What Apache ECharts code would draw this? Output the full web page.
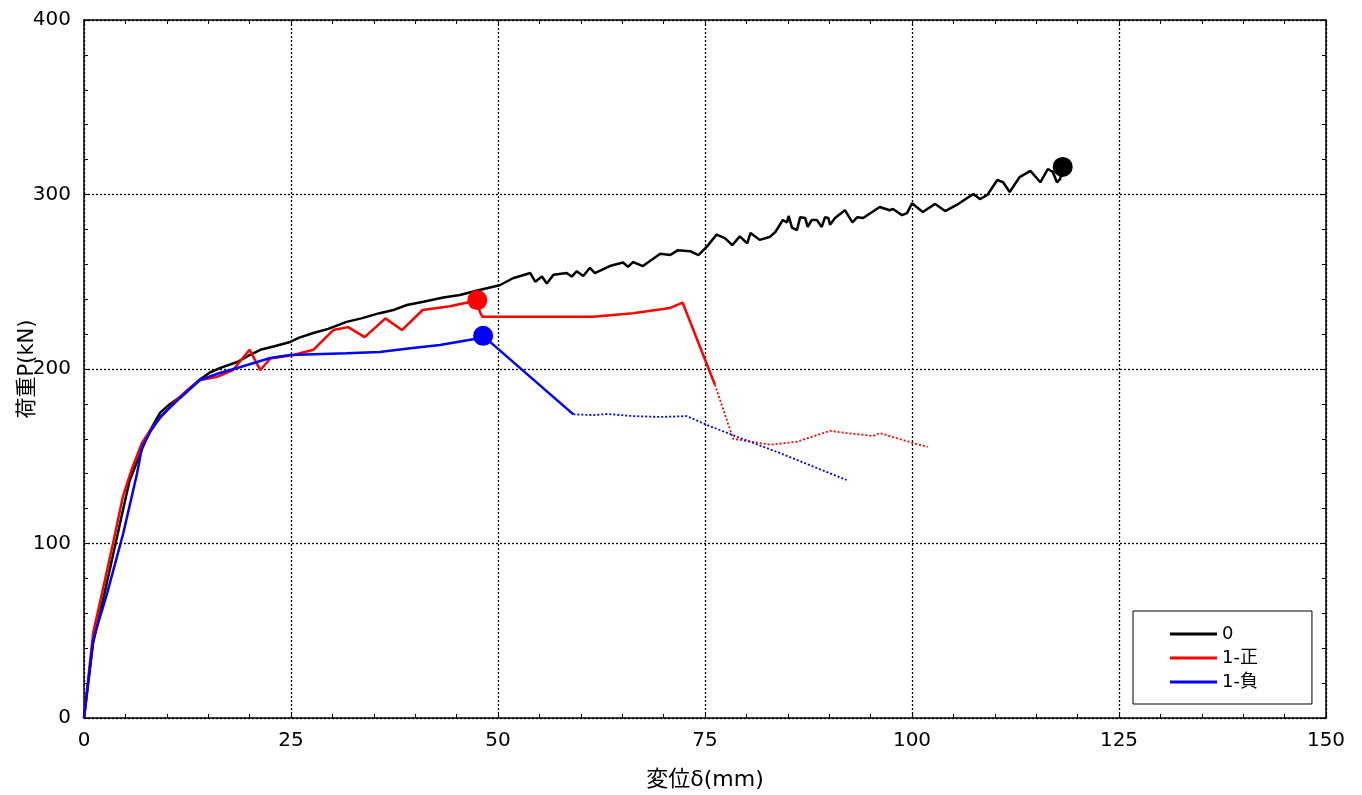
<!DOCTYPE html>
<html>
<head>
<meta charset="utf-8">
<script src="https://cdn.jsdelivr.net/npm/echarts@6/dist/echarts.min.js"></script>
<style>
html,body{margin:0;padding:0;background:#fff;}
#c{width:1362px;height:795px;}
</style>
</head>
<body>
<div id="c"></div>
<script>
// ---- data (displacement mm, load kN) ----
const seriesNames = ['0', '1-正', '1-負'];
const xTicks = [0, 25, 50, 75, 100, 125, 150];
const yTicks = [0, 100, 200, 300, 400];

const curve0 = [[0,0],[0.5,20],[1.1,43],[2.5,72],[4,104],[4.7,119],[5.5,136],[7.0,154],[8.0,165],[9.2,175],[10.4,180],[11.6,184],[12.8,189],[14,194],[15.2,198],[16.4,200.5],[18.5,204],[20,208],[21.3,211],[23,213],[24.9,215.5],[26,218],[27.7,220.6],[29.5,223],[31.7,227],[33.5,229],[35.7,232],[37.5,234],[39,236.7],[41,238.5],[43.4,241],[45.4,242.4],[47.5,245],[50.2,248],[51.8,252],[53.9,255],[54.5,250],[55.3,253],[55.9,249],[56.7,254],[58.3,255],[58.9,253],[59.5,256],[60.3,253.3],[61.1,258],[61.7,255],[63.5,259],[65.1,261],[65.7,258.5],[66.3,261.3],[67.5,259],[69.6,266],[70.8,265.3],[71.7,268],[73.2,267.5],[74.2,265.3],[75.2,270],[76.4,277],[77.4,275],[78.3,271],[79.2,276],[80.1,272],[80.5,278],[81.6,274],[82.8,275.6],[83.5,278.5],[84.4,285.4],[84.9,284],[85.1,287.7],[85.5,281],[86.1,279.6],[86.5,287],[87.1,286.5],[87.4,281.4],[87.9,285.4],[88.5,285.4],[89.1,281.4],[89.5,287],[89.9,286.5],[90.1,282.7],[90.7,286.5],[91.9,291],[92.8,284],[93.4,287],[94.1,286.5],[96.1,292.8],[97.3,291],[97.7,291.7],[98.8,288.2],[99.4,289.3],[100,295],[101.3,290],[102.8,294.6],[104,290.5],[105.4,294],[107.4,300.3],[108.2,297.4],[109.1,299.7],[110.3,308.3],[111,307],[111.8,301.4],[113,310],[114.3,313.5],[115.5,307],[116.4,314.6],[117,313],[117.5,307],[117.9,309],[118.2,315.8]];

const curve1Solid = [[0,0],[1.1,48.7],[2.2,72],[3.5,100],[4.7,127],[5.8,143],[7.0,157.6],[8,165],[9.2,172],[10.8,180.5],[12.5,188],[14,193.7],[16,195.4],[18,199.4],[20,211],[21.3,199.4],[22.5,206],[25.3,208],[27.7,211],[30.1,222.3],[31.9,224],[33.9,218.3],[36.4,229],[38.4,222.3],[40.9,233.8],[44.2,236],[46.6,238.4],[47.5,239.5],[47.8,233],[48.1,230],[55,230],[61.5,230],[66.3,232],[70.8,235],[72.3,238],[76.2,191]];
const curve1Dotted = [[76.2,191],[78.4,160],[82.9,156.6],[86.1,158.3],[90.1,164.6],[92.1,163.3],[95.3,161.6],[96.1,163.3],[100.1,157.6],[101.9,155.3]];

const curve2Solid = [[0,0],[1.1,44.7],[2.8,71.6],[4.75,106],[6.4,140],[7.0,155],[8,164],[9.2,172.5],[11.6,183.4],[14,193.7],[16.4,197.7],[18.8,201],[22.5,206.3],[24.9,208],[31.7,209],[35.7,209.7],[39.7,212],[43,213.7],[47,217],[48.2,219],[59.1,174]];
const curve2Dotted = [[59.1,174],[61.5,173.6],[63.2,174.2],[66.3,173],[69.6,172.5],[72.8,173],[75.2,168],[78.4,162],[84,151.9],[92.1,136.4]];

const peak0 = [[118.2,315.8]];
const peak1 = [[47.5,239.5]];
const peak2 = [[48.2,219]];

const colors = ['#000000', '#ff0000', '#0000ff'];
const FONT = '"DejaVu Sans", "Noto Sans CJK JP", sans-serif';

const chart = echarts.init(document.getElementById('c'), null, {renderer: 'canvas'});

const frameAxisLine = {show: true, onZero: false, lineStyle: {color: '#000', width: 1.5}};
const minorTick = {show: true, splitNumber: 5, length: 4, lineStyle: {color: '#000', width: 1}};
const split = {show: true, lineStyle: {color: '#000', width: 1.3, type: [2, 2]}};
const tick = {show: true, inside: true, length: 4, lineStyle: {color: '#000'}};

function lineSeries(name, data, color, dotted) {
  return {
    name: name,
    type: 'line',
    data: data,
    symbol: 'none',
    showSymbol: false,
    animation: false,
    lineStyle: dotted ? {color: color, width: 1.8, type: [2, 2]} : {color: color, width: 2.5},
    itemStyle: {color: color},
    z: dotted ? 3 : 4
  };
}
function peakSeries(name, data, color) {
  return {
    name: name, type: 'scatter', data: data, symbol: 'circle', symbolSize: 20,
    itemStyle: {color: color, opacity: 1}, animation: false, z: 6
  };
}

chart.setOption({
  animation: false,
  textStyle: {fontFamily: FONT},
  grid: {left: 84, top: 20, right: 36, bottom: 77, containLabel: false, outerBoundsMode: 'none'},
  legend: {
    data: seriesNames.map(n => ({name: n, icon: 'rect'})),
    orient: 'vertical',
    left: 1133, top: 611,
    padding: [14, 54, 13, 37],
    itemWidth: 47, itemHeight: 3, itemGap: 6, itemTextGap: 18,
    backgroundColor: '#fff',
    borderColor: '#000', borderWidth: 1,
    textStyle: {fontFamily: FONT, fontSize: 18, color: '#000', lineHeight: 18}
  },
  xAxis: [{
    type: 'value', min: 0, max: 150, interval: 25,
    name: '変位δ(mm)', nameLocation: 'middle', nameGap: 51, nameMoveOverlap: false,
    nameTextStyle: {fontFamily: FONT, fontSize: 22, color: '#000'},
    axisLine: frameAxisLine, axisTick: tick, minorTick: minorTick,
    axisLabel: {color: '#000', fontSize: 20, margin: 13, fontFamily: FONT},
    splitLine: split
  }, {
    type: 'value', min: 0, max: 150, interval: 25, position: 'top',
    axisLine: frameAxisLine, axisTick: tick, minorTick: minorTick,
    axisLabel: {show: false}, splitLine: {show: false}
  }],
  yAxis: [{
    type: 'value', min: 0, max: 400, interval: 100,
    name: '荷重P(kN)', nameLocation: 'middle', nameGap: 46, nameRotate: 90, nameMoveOverlap: false,
    nameTextStyle: {fontFamily: FONT, fontSize: 21, color: '#000'},
    axisLine: frameAxisLine, axisTick: tick, minorTick: minorTick,
    axisLabel: {color: '#000', fontSize: 20, margin: 13, fontFamily: FONT},
    splitLine: split
  }, {
    type: 'value', min: 0, max: 400, interval: 100, position: 'right',
    axisLine: frameAxisLine, axisTick: tick, minorTick: minorTick,
    axisLabel: {show: false}, splitLine: {show: false}
  }],
  series: [
    lineSeries(seriesNames[0], curve0, colors[0], false),
    lineSeries(seriesNames[1], curve1Solid, colors[1], false),
    lineSeries(seriesNames[2], curve2Solid, colors[2], false),
    lineSeries('1-正 (dotted)', curve1Dotted, colors[1], true),
    lineSeries('1-負 (dotted)', curve2Dotted, colors[2], true),
    peakSeries('peak 0', peak0, colors[0]),
    peakSeries('peak 1-正', peak1, colors[1]),
    peakSeries('peak 1-負', peak2, colors[2])
  ]
});
</script>
</body>
</html>
